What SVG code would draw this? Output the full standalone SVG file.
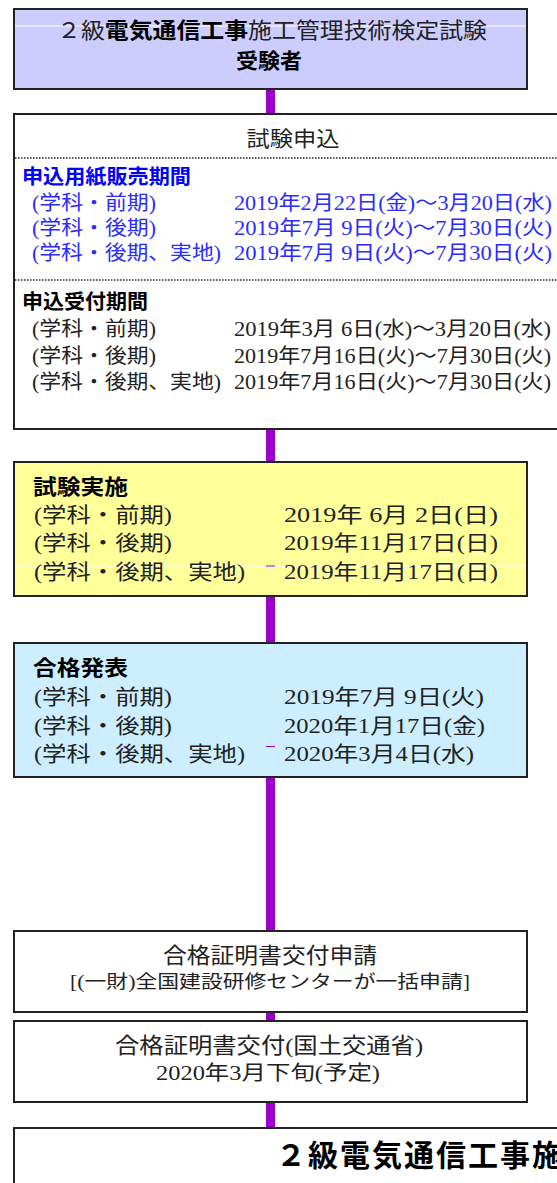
<svg xmlns="http://www.w3.org/2000/svg" width="557" height="1183" viewBox="0 0 557 1183">
<style>
.box{stroke:#222;stroke-width:2}
.m{font-family:"Liberation Serif","Noto Sans CJK JP",serif;fill:#222}
.g{font-family:"Liberation Sans","Noto Sans CJK JP",sans-serif;font-weight:bold;fill:#000}
.blue{fill:#2b2bff}
.conn{fill:#9900cc}
.dot{stroke:#222;stroke-width:1.5;stroke-dasharray:1.5 1.5;fill:none}
.wl{stroke:#fff;stroke-width:1}
</style>
<rect width="557" height="1183" fill="#fff"/>
<g id="connectors">
<rect class="conn" x="266" y="89" width="9" height="25"/>
<rect class="conn" x="266" y="429" width="9" height="33"/>
<rect class="conn" x="266" y="596" width="9" height="47"/>
<rect class="conn" x="266" y="777" width="9" height="154"/>
<rect class="conn" x="266" y="1012" width="9" height="9"/>
<rect class="conn" x="266" y="1102" width="9" height="26"/>
</g>
<g id="node-examinee">
<rect class="box" x="14" y="9" width="513" height="80" fill="#ccccff"/>
<line class="wl" x1="15" y1="26" x2="526" y2="26"/>
<text class="m" x="57" y="38" font-size="22" textLength="430" lengthAdjust="spacingAndGlyphs">２級<tspan class="g">電気通信工事</tspan>施工管理技術検定試験</text>
<text class="g" x="236" y="68" font-size="21" textLength="66" lengthAdjust="spacingAndGlyphs">受験者</text>
</g>
<g id="node-application">
<rect class="box" x="14" y="114" width="560" height="315" fill="#fff"/>
<text class="m" x="293" y="146" font-size="21" text-anchor="middle" textLength="93" lengthAdjust="spacingAndGlyphs">試験申込</text>
<line class="dot" x1="15" y1="158" x2="557" y2="158"/>
<text class="g" x="22" y="184" font-size="20" style="fill:#0000ff" textLength="169" lengthAdjust="spacingAndGlyphs">申込用紙販売期間</text>
<text class="m blue" x="32" y="210" font-size="20" textLength="124" lengthAdjust="spacingAndGlyphs">(学科・前期)</text>
<text class="m blue" x="234" y="210" font-size="20" textLength="318" lengthAdjust="spacingAndGlyphs">2019年2月22日(金)～3月20日(水)</text>
<text class="m blue" x="32" y="235" font-size="20" textLength="124" lengthAdjust="spacingAndGlyphs">(学科・後期)</text>
<text class="m blue" x="234" y="235" font-size="20" textLength="318" lengthAdjust="spacingAndGlyphs">2019年7月 9日(火)～7月30日(火)</text>
<text class="m blue" x="32" y="260" font-size="20" textLength="189" lengthAdjust="spacingAndGlyphs">(学科・後期、実地)</text>
<text class="m blue" x="234" y="260" font-size="20" textLength="318" lengthAdjust="spacingAndGlyphs">2019年7月 9日(火)～7月30日(火)</text>
<line class="dot" x1="15" y1="280" x2="557" y2="280"/>
<text class="g" x="22" y="309" font-size="20" textLength="126" lengthAdjust="spacingAndGlyphs">申込受付期間</text>
<text class="m" x="32" y="336" font-size="20" textLength="124" lengthAdjust="spacingAndGlyphs">(学科・前期)</text>
<text class="m" x="234" y="336" font-size="20" textLength="317" lengthAdjust="spacingAndGlyphs">2019年3月 6日(水)～3月20日(水)</text>
<text class="m" x="32" y="363" font-size="20" textLength="124" lengthAdjust="spacingAndGlyphs">(学科・後期)</text>
<text class="m" x="234" y="363" font-size="20" textLength="317" lengthAdjust="spacingAndGlyphs">2019年7月16日(火)～7月30日(火)</text>
<text class="m" x="32" y="389" font-size="20" textLength="189" lengthAdjust="spacingAndGlyphs">(学科・後期、実地)</text>
<text class="m" x="234" y="389" font-size="20" textLength="317" lengthAdjust="spacingAndGlyphs">2019年7月16日(火)～7月30日(火)</text>
</g>
<g id="node-exam">
<rect class="box" x="14" y="462" width="513" height="134" fill="#ffff99"/>
<line class="wl" x1="15" y1="566" x2="526" y2="566"/>
<rect class="conn" x="266" y="565.5" width="9" height="1"/>
<text class="g" x="33" y="494" font-size="21" textLength="95" lengthAdjust="spacingAndGlyphs">試験実施</text>
<text class="m" x="34" y="522" font-size="21" textLength="138" lengthAdjust="spacingAndGlyphs">(学科・前期)</text>
<text class="m" x="284" y="522" font-size="21" textLength="214" lengthAdjust="spacingAndGlyphs">2019年 6月 2日(日)</text>
<text class="m" x="34" y="550" font-size="21" textLength="138" lengthAdjust="spacingAndGlyphs">(学科・後期)</text>
<text class="m" x="284" y="550" font-size="21" textLength="214" lengthAdjust="spacingAndGlyphs">2019年11月17日(日)</text>
<text class="m" x="34" y="579" font-size="21" textLength="211" lengthAdjust="spacingAndGlyphs">(学科・後期、実地)</text>
<text class="m" x="284" y="579" font-size="21" textLength="214" lengthAdjust="spacingAndGlyphs">2019年11月17日(日)</text>
</g>
<g id="node-result">
<rect class="box" x="14" y="643" width="513" height="134" fill="#cceeff"/>
<rect class="conn" x="266" y="746" width="9" height="1"/>
<text class="g" x="33" y="675" font-size="21" textLength="95" lengthAdjust="spacingAndGlyphs">合格発表</text>
<text class="m" x="34" y="704" font-size="21" textLength="138" lengthAdjust="spacingAndGlyphs">(学科・前期)</text>
<text class="m" x="284" y="704" font-size="21" textLength="200" lengthAdjust="spacingAndGlyphs">2019年7月 9日(火)</text>
<text class="m" x="34" y="733" font-size="21" textLength="138" lengthAdjust="spacingAndGlyphs">(学科・後期)</text>
<text class="m" x="284" y="733" font-size="21" textLength="201" lengthAdjust="spacingAndGlyphs">2020年1月17日(金)</text>
<text class="m" x="34" y="761" font-size="21" textLength="211" lengthAdjust="spacingAndGlyphs">(学科・後期、実地)</text>
<text class="m" x="284" y="761" font-size="21" textLength="190" lengthAdjust="spacingAndGlyphs">2020年3月4日(水)</text>
</g>
<g id="node-cert-apply">
<rect class="box" x="14" y="931" width="513" height="81" fill="#fff"/>
<text class="m" x="270" y="963" font-size="22" text-anchor="middle" textLength="214" lengthAdjust="spacingAndGlyphs">合格証明書交付申請</text>
<text class="m" x="270" y="988" font-size="18" text-anchor="middle" textLength="400" lengthAdjust="spacingAndGlyphs">[(一財)全国建設研修センターが一括申請]</text>
</g>
<g id="node-cert-issue">
<rect class="box" x="14" y="1021" width="513" height="81" fill="#fff"/>
<text class="m" x="269" y="1053" font-size="22" text-anchor="middle" textLength="308" lengthAdjust="spacingAndGlyphs">合格証明書交付(国土交通省)</text>
<text class="m" x="268" y="1080" font-size="20" text-anchor="middle" textLength="224" lengthAdjust="spacingAndGlyphs">2020年3月下旬(予定)</text>
</g>
<g id="node-qualified">
<rect class="box" x="14" y="1128" width="600" height="100" fill="#fff"/>
<text class="g" x="276" y="1166" font-size="30" letter-spacing="2">２級電気通信工事施</text>
</g>
</svg>
